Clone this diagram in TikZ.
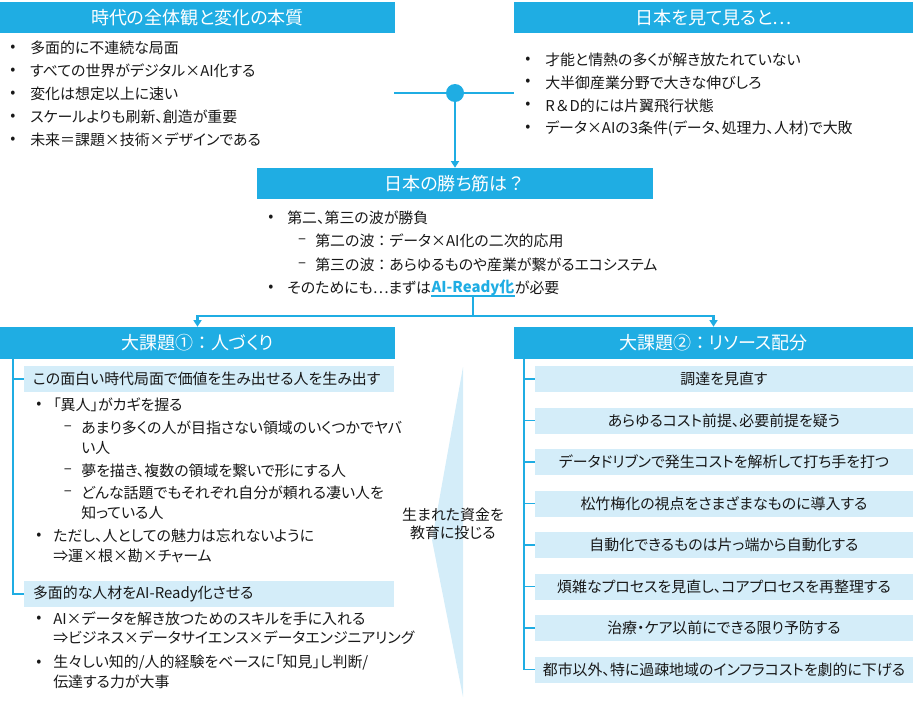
\documentclass[tikz,border=0pt]{standalone}
\usepackage{fontspec}
\setmainfont{Noto Sans CJK JP}[RawFeature=+palt]
\newfontfamily\jpfull{Noto Sans CJK JP}
\usetikzlibrary{arrows.meta,positioning}

\definecolor{hdrblue}{RGB}{31,173,227}
\definecolor{barblue}{RGB}{212,237,249}
\definecolor{inkgray}{RGB}{24,24,24}

\newcommand{\txtfont}{\fontsize{11.2}{14}\selectfont}
\newcommand{\hdrfont}{\fontsize{13.5}{16}\selectfont}
\newcommand{\wcolon}{{\jpfull ：}}

\tikzset{
  hdr/.style={fill=hdrblue, text=white, inner sep=0pt, minimum height=23.25pt, font=\hdrfont},
  lbar/.style={fill=barblue, text=inkgray, inner ysep=0pt, inner xsep=6.75pt, minimum height=19.5pt,
    text width=264pt, align=left, font=\txtfont},
  rbar/.style={fill=barblue, text=inkgray, inner sep=0pt, minimum height=19.5pt, minimum width=283.5pt, font=\txtfont},
  itm/.style={anchor=west, inner sep=0pt, text=inkgray, font=\txtfont},
  dot/.style={inner sep=0pt, text=inkgray, font=\txtfont},
  wire/.style={draw=hdrblue, line width=1.6pt},
  spine/.style={draw=hdrblue, line width=1.3pt},
  tip/.style={-{Triangle[width=6pt,length=5pt]}},
  hub/.style={circle, fill=hdrblue, inner sep=0pt, minimum size=13.5pt},
}

\begin{document}
\begin{tikzpicture}[x=0.75pt,y=0.75pt,yscale=-1,xscale=1]
    \useasboundingbox (0,0) rectangle (913,700);

    % headers
    \node[hdr, minimum width=296.25pt] (hdrA) at (197.5,17.5) {時代の全体観と変化の本質};
    \node[hdr, minimum width=299.25pt] (hdrB) at (713.5,17.5) {日本を見て見ると…};
    \node[hdr, minimum width=297pt] (hdrM) at (455,183.5) {日本の勝ち筋は{\jpfull ？}};
    \node[hdr, minimum width=296.25pt, minimum height=24pt] (hdrL) at (197.5,343) {大課題①\wcolon 人づくり};
    \node[hdr, minimum width=299.25pt, minimum height=24pt] (hdrR) at (713.5,343) {大課題②\wcolon リソース配分};

    % top left list
    \foreach \lbl [count=\i] in {多面的に不連続な局面, すべての世界がデジタル×AI化する, 変化は想定以上に速い,
        スケールよりも刷新、創造が重要, 未来{\jpfull ＝}課題×技術×デザインである} {
        \node[dot] (dotA\i) at (13,{48+23*(\i-1)}) {•};
        \node[itm] (itmA\i) at (30,{48+23*(\i-1)}) {\lbl};
    }

    % top right list
    \foreach \lbl [count=\i] in {才能と情熱の多くが解き放たれていない, 大半御産業分野で大きな伸びしろ, {\jpfull R＆D}的には片翼飛行状態,
        データ×AIの3条件(データ、処理力、人材)で大敗} {
        \node[dot] (dotB\i) at (528,{60+22.7*(\i-1)}) {•};
        \node[itm] (itmB\i) at (545,{60+22.7*(\i-1)}) {\lbl};
    }

    % hub
    \coordinate (tapA) at (394,93);
    \coordinate (tapB) at (514,93);
    \draw[wire] (tapA) -- (tapB);
    \node[hub] (hub) at (455,93) {};
    \draw[wire,tip] (hub) -- (hdrM.north);

    % middle list
    \node[dot] (dotM1) at (271,218) {•};
    \node[itm] (itmM1) at (287,218) {第二、第三の波が勝負};
    \node[dot] (dashM1) at (302,241) {–};
    \node[itm] (itmM2) at (315,241) {第二の波\wcolon データ×AI化の二次的応用};
    \node[dot] (dashM2) at (302,265) {–};
    \node[itm] (itmM3) at (315,265) {第三の波\wcolon あらゆるものや産業が繋がるエコシステム};
    \node[dot] (dotM2) at (271,288) {•};
    \node[itm] (need1) at (287,288) {そのためにも…まずは};
    \node[itm, text=hdrblue, font=\txtfont\bfseries] (ready) at (need1.east) {AI-Ready化};
    \node[itm] (need2) at (ready.east) {が必要};

    % fork to the two tasks
    \coordinate (fork) at (ready.south |- 0,316);
    \draw[wire] (ready.south west) -- (ready.south east);
    \draw[wire] (ready.south) -- (fork);
    \draw[wire,tip] (fork) -| (hdrL.north);
    \draw[wire,tip] (fork) -| (hdrR.north);

    % fund triangle
    \fill[barblue] (463,367) -- (432,540) -- (463,697) -- cycle;
    \node[align=center, inner sep=0pt, text=inkgray, font=\fontsize{11.2}{13.5}\selectfont] (fund) at (453,524) {生まれた資金を\\教育に投じる};

    % left task
    \node[lbar] (gapL1) at (209,379) {この面白い時代局面で価値を生み出せる人を生み出す};
    \node[lbar] (gapL2) at (209,594) {多面的な人材をAI-Ready化させる};
    \coordinate (spineL) at (13,359);
    \draw[spine] (spineL) |- (gapL2.west);
    \draw[spine] (spineL |- gapL1.west) -- (gapL1.west);

    \node[dot] (dotL1) at (39,405) {•};
    \node[itm] (itmL1) at (53,405) {「異人」がカギを握る};
    \node[dot] (dashL1) at (68,428) {–};
    \node[itm] (itmL2) at (81,428) {あまり多くの人が目指さない領域のいくつかでヤバ};
    \node[itm] (itmL2b) at (81,448) {い人};
    \node[dot] (dashL2) at (68,471) {–};
    \node[itm] (itmL3) at (81,471) {夢を描き、複数の領域を繋いで形にする人};
    \node[dot] (dashL3) at (68,493) {–};
    \node[itm] (itmL4) at (81,493) {どんな話題でもそれぞれ自分が頼れる凄い人を};
    \node[itm] (itmL4b) at (81,513) {知っている人};
    \node[dot] (dotL2) at (39,536) {•};
    \node[itm] (itmL5) at (53,536) {ただし、人としての魅力は忘れないように};
    \node[itm] (itmL5b) at (53,556) {⇒運×根×勘×チャーム};

    \node[dot] (dotL3) at (39,619) {•};
    \node[itm] (itmL6) at (53,619) {AI×データを解き放つためのスキルを手に入れる};
    \node[itm] (itmL6b) at (53,638) {⇒ビジネス×データサイエンス×データエンジニアリング};
    \node[dot] (dotL4) at (39,663) {•};
    \node[itm] (itmL7) at (53,663) {生々しい知的/人的経験をベースに「知見」し判断/};
    \node[itm] (itmL7b) at (53,682) {伝達する力が大事};

    % right task
    \foreach \lbl [count=\i] in {調達を見直す, あらゆるコスト前提、必要前提を疑う, データドリブンで発生コストを解析して打ち手を打つ,
        松竹梅化の視点をさまざまなものに導入する, 自動化できるものは片っ端から自動化する,
        煩雑なプロセスを見直し、コアプロセスを再整理する, 治療・ケア以前にできる限り予防する,
        都市以外、特に過疎地域のインフラコストを劇的に下げる} {
        \node[rbar] (cost\i) at (724,{379+41.5*(\i-1)}) {\lbl};
    }
    \coordinate (spineR) at (524,359);
    \draw[spine] (spineR) |- (cost8.west);
    \foreach \i in {1,...,7} {
        \draw[spine] (spineR |- cost\i.west) -- (cost\i.west);
    }

\end{tikzpicture}
\end{document}
